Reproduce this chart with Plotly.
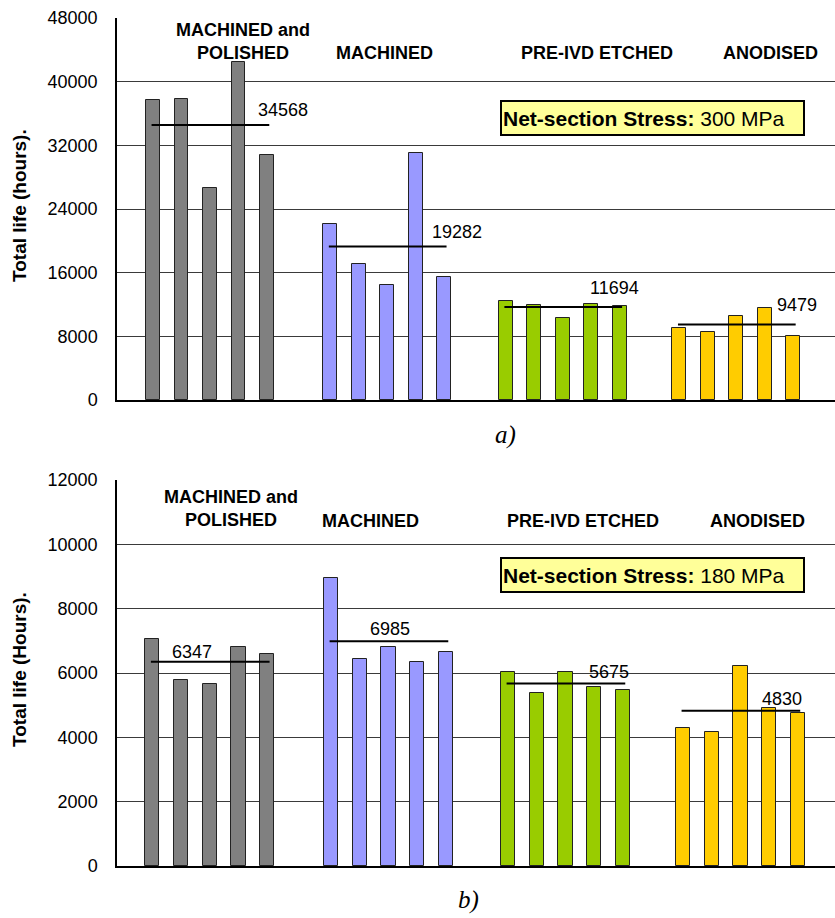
import plotly.graph_objects as go

W, H = 835, 918

groups = ["MACHINED and<br>POLISHED", "MACHINED", "PRE-IVD ETCHED", "ANODISED"]
colors = ["#808080", "#9999FF", "#99CC00", "#FFCC00"]

# chart a) 300 MPa
life_a_polished = [37700, 37800, 26700, 42500, 30800]
life_a_machined = [22100, 17100, 14500, 31000, 15500]
life_a_etched = [12400, 11900, 10350, 12100, 11800]
life_a_anodised = [9000, 8500, 10500, 11500, 8000]
mean_a = [34568, 19282, 11694, 9479]

# chart b) 180 MPa
life_b_polished = [7050, 5770, 5660, 6800, 6600]
life_b_machined = [8960, 6440, 6800, 6340, 6660]
life_b_etched = [6020, 5370, 6020, 5560, 5460]
life_b_anodised = [4300, 4160, 6220, 4900, 4770]
mean_b = [6347, 6985, 5675, 4830]

y_ticks_a = [0, 8000, 16000, 24000, 32000, 40000, 48000]
y_ticks_b = [0, 2000, 4000, 6000, 8000, 10000, 12000]

stress_a = "300 MPa"
stress_b = "180 MPa"
ytitle_a = "Total life (hours)."
ytitle_b = "Total life (Hours)."

# layout positions of the groups on the category axis
group_starts = [0, 6.22, 12.38, 18.47]

FONT = "Liberation Sans, Arial, sans-serif"


def px(x):
    return x / W


def py(y):
    return 1 - y / H


fig = go.Figure()

data_a = [life_a_polished, life_a_machined, life_a_etched, life_a_anodised]
data_b = [life_b_polished, life_b_machined, life_b_etched, life_b_anodised]

for panel, (data, means, xa, ya) in enumerate([(data_a, mean_a, "x", "y"), (data_b, mean_b, "x2", "y2")]):
    for g, vals in enumerate(data):
        xs = [group_starts[g] + i for i in range(len(vals))]
        fig.add_trace(go.Bar(
            x=xs, y=vals, width=0.49, xaxis=xa, yaxis=ya,
            marker=dict(color=colors[g], line=dict(color="#222222", width=1)),
            showlegend=False, hoverinfo="skip"))
    for g, m in enumerate(means):
        s = group_starts[g]
        fig.add_trace(go.Scatter(
            x=[s - 0.05, s + 4.08], y=[m, m], mode="lines", xaxis=xa, yaxis=ya,
            line=dict(color="#000000", width=2), showlegend=False, hoverinfo="skip"))

axis_common = dict(showgrid=False, showticklabels=False, zeroline=False, automargin=False,
                   showline=True, linecolor="#000000", linewidth=1.5, ticks="")
yaxis_common = dict(showgrid=True, gridcolor="#3a3a3a", gridwidth=1, zeroline=False,
                    automargin=False, showline=True, linecolor="#000000", linewidth=1.5,
                    ticks="", ticklabelstandoff=14,
                    tickfont=dict(family=FONT, size=18, color="#000000"))
fig.update_layout(
    width=W, height=H,
    margin=dict(l=0, r=0, t=0, b=0, autoexpand=False),
    paper_bgcolor="white", plot_bgcolor="white",
    bargap=0,
    xaxis=dict(domain=[px(117), 1.0], range=[-1.263, 23.93], anchor="y", **axis_common),
    xaxis2=dict(domain=[px(117), 1.0], range=[-1.23, 23.76], anchor="y2", **axis_common),
    yaxis=dict(domain=[py(400), py(18)], range=[0, 48000], tickvals=y_ticks_a,
               ticktext=[str(v) for v in y_ticks_a], anchor="x", **yaxis_common),
    yaxis2=dict(domain=[py(866), py(480)], range=[0, 12000], tickvals=y_ticks_b,
                ticktext=[str(v) for v in y_ticks_b], anchor="x2", **yaxis_common),
)

ann = []
# group labels
glab_a_x = [3.16, 8.11, 15.58, 21.65]
glab_b_x = [2.73, 7.60, 14.99, 21.06]
for g, name in enumerate(groups):
    two = "<br>" in name
    ann.append(dict(x=glab_a_x[g], xref="x", y=py(42) if two else py(53), yref="paper",
                    text="<b>%s</b>" % name, showarrow=False,
                    font=dict(family=FONT, size=18, color="#000"), xanchor="center", yanchor="middle"))
    ann.append(dict(x=glab_b_x[g], xref="x2", y=py(509) if two else py(521), yref="paper",
                    text="<b>%s</b>" % name, showarrow=False,
                    font=dict(family=FONT, size=18, color="#000"), xanchor="center", yanchor="middle"))

# mean labels
mlab_a = [(4.56, 1900), (10.67, 1844), (16.21, 2390), (22.60, 2467)]
mlab_b = [(1.39, 311), (8.28, 379), (15.91, 351), (21.91, 356)]
for g, m in enumerate(mean_a):
    ann.append(dict(x=mlab_a[g][0], y=m + mlab_a[g][1], xref="x", yref="y", text=str(m),
                    showarrow=False, font=dict(family=FONT, size=18, color="#000")))
for g, m in enumerate(mean_b):
    ann.append(dict(x=mlab_b[g][0], y=m + mlab_b[g][1], xref="x2", yref="y2", text=str(m),
                    showarrow=False, font=dict(family=FONT, size=18, color="#000")))

# stress boxes
for text, cy in [(stress_a, 118), (stress_b, 574.5)]:
    ann.append(dict(x=px(652.5), y=py(cy), xref="paper", yref="paper",
                    text="<b>Net-section Stress:</b> " + text, showarrow=False,
                    font=dict(family=FONT, size=21, color="#000"),
                    bgcolor="#FFFF99", bordercolor="#000000", borderwidth=2, borderpad=1,
                    width=299, height=30, align="left", xanchor="center", yanchor="middle"))

# y-axis titles
for text, cy in [(ytitle_a, 206), (ytitle_b, 670)]:
    ann.append(dict(x=px(19), y=py(cy), xref="paper", yref="paper", text="<b>%s</b>" % text,
                    showarrow=False, textangle=-90,
                    font=dict(family=FONT, size=19, color="#000"),
                    xanchor="center", yanchor="middle"))

# panel labels
for text, cx, cy in [("a)", 505, 435), ("b)", 469, 900)]:
    ann.append(dict(x=px(cx), y=py(cy), xref="paper", yref="paper", text="<i>%s</i>" % text,
                    showarrow=False, font=dict(family="Liberation Serif, DejaVu Serif, serif", size=25, color="#000"),
                    xanchor="center", yanchor="middle"))

fig.update_layout(annotations=ann)

fig.write_html("out.html")
